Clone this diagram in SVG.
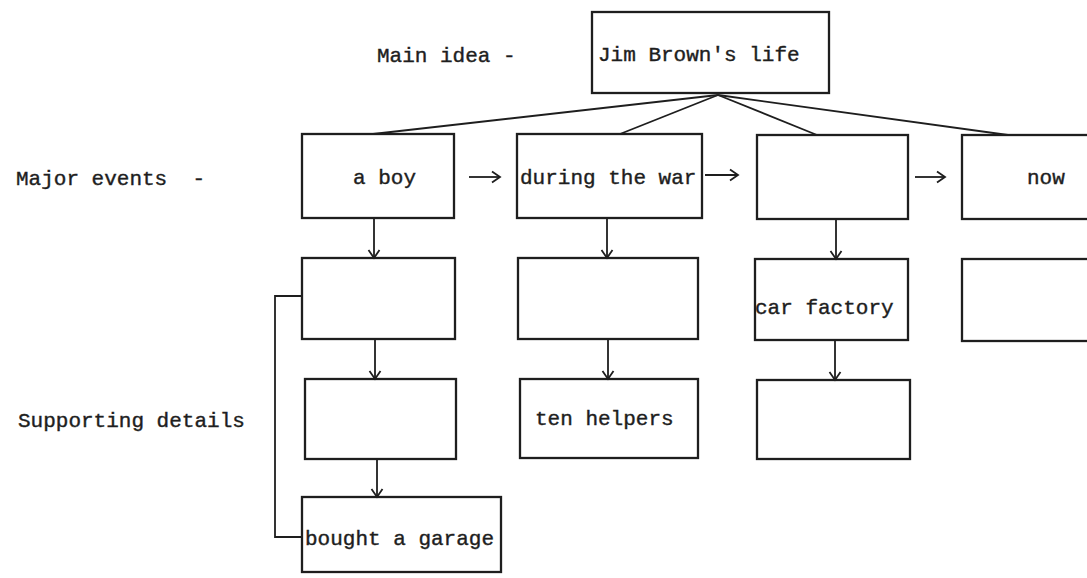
<svg xmlns="http://www.w3.org/2000/svg" width="1087" height="578" viewBox="0 0 1087 578">
<style>
.box{fill:none;stroke:#1e1e1e;stroke-width:2.3}
.t{font-family:"Liberation Mono","Courier New",monospace;font-size:21px;fill:#1e1e1e;stroke:#1e1e1e;stroke-width:0.4}
.c{fill:none;stroke:#1e1e1e;stroke-width:1.8}
</style>
<defs>
<marker id="v" markerUnits="userSpaceOnUse" markerWidth="14" markerHeight="14" refX="10" refY="7" orient="auto">
<path d="M2,1.5 L10,7 L2,12.5" fill="none" stroke="#1e1e1e" stroke-width="1.8"/>
</marker>
</defs>
<rect width="1087" height="578" fill="#ffffff"/>
<text class="t" x="377" y="62">Main idea -</text>
<text class="t" x="16" y="185" xml:space="preserve">Major events  -</text>
<text class="t" x="18" y="427">Supporting details</text>
<g id="connectors">
<path class="c" d="M718,95 L373,134"/>
<path class="c" d="M718,95 L620,134"/>
<path class="c" d="M718,95 L817,135"/>
<path class="c" d="M718,95 L1008,135"/>
<path class="c" d="M469,177 H500" marker-end="url(#v)"/>
<path class="c" d="M705,175 H738" marker-end="url(#v)"/>
<path class="c" d="M915,177 H945" marker-end="url(#v)"/>
<path class="c" d="M374,218 V258" marker-end="url(#v)"/>
<path class="c" d="M607,218 V258" marker-end="url(#v)"/>
<path class="c" d="M836,219 V259" marker-end="url(#v)"/>
<path class="c" d="M375,339 V379" marker-end="url(#v)"/>
<path class="c" d="M608,339 V379" marker-end="url(#v)"/>
<path class="c" d="M835,340 V380" marker-end="url(#v)"/>
<path class="c" d="M377,459 V497" marker-end="url(#v)"/>
<path class="c" d="M302,296 H275 V537 H302"/>
</g>
<g id="main"><rect class="box" x="592" y="12" width="237" height="81"/><text class="t" x="598" y="61">Jim Brown's life</text></g>
<g id="e1"><rect class="box" x="302" y="134" width="152" height="84"/><text class="t" x="353" y="184">a boy</text></g>
<g id="e2"><rect class="box" x="517" y="134" width="185" height="84"/><text class="t" x="520" y="184">during the war</text></g>
<g id="e3"><rect class="box" x="757" y="135" width="151" height="84"/></g>
<g id="e4"><rect class="box" x="962" y="135" width="151" height="84"/><text class="t" x="1027" y="184">now</text></g>
<g id="d1"><rect class="box" x="302" y="258" width="153" height="81"/></g>
<g id="d2"><rect class="box" x="518" y="258" width="180" height="81"/></g>
<g id="d3"><rect class="box" x="755" y="259" width="153" height="81"/><text class="t" x="755" y="314">car factory</text></g>
<g id="d4"><rect class="box" x="962" y="259" width="151" height="82"/></g>
<g id="s1"><rect class="box" x="305" y="379" width="151" height="80"/></g>
<g id="s2"><rect class="box" x="520" y="379" width="178" height="79"/><text class="t" x="535" y="425">ten helpers</text></g>
<g id="s3"><rect class="box" x="757" y="380" width="153" height="79"/></g>
<g id="g1"><rect class="box" x="302" y="497" width="199" height="75"/><text class="t" x="305" y="545">bought a garage</text></g>
</svg>
